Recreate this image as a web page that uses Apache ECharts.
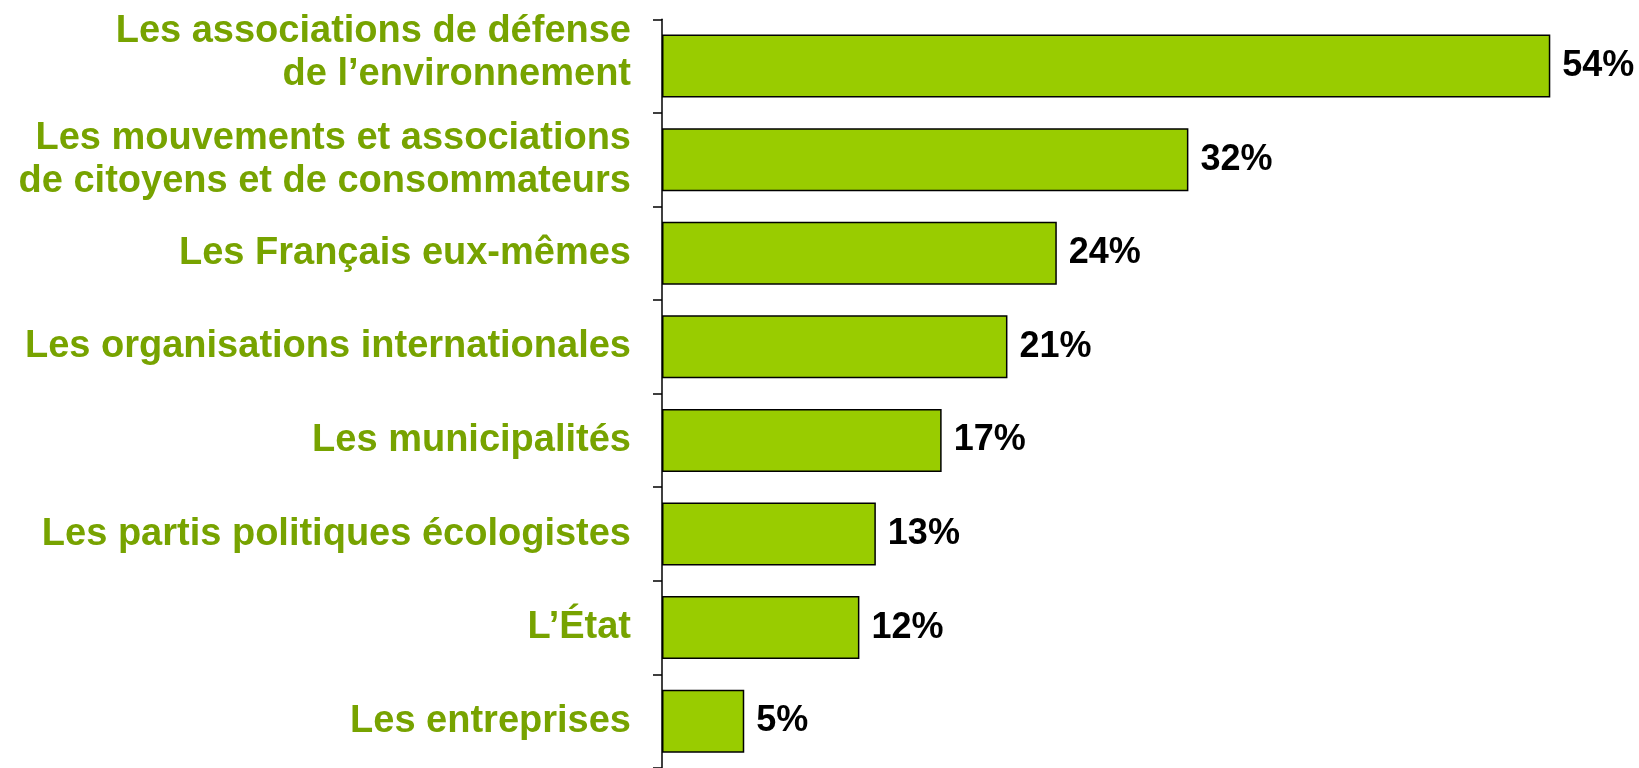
<!DOCTYPE html>
<html>
<head>
<meta charset="utf-8">
<script src="https://cdn.jsdelivr.net/npm/echarts@6/dist/echarts.min.js"></script>
<style>
html,body{margin:0;padding:0;background:#fff;}
#c{width:1639px;height:768px;}
</style>
</head>
<body>
<div id="c"></div>
<script>
const categories = [
  "Les associations de défense\nde l’environnement",
  "Les mouvements et associations\nde citoyens et de consommateurs",
  "Les Français eux-mêmes",
  "Les organisations internationales",
  "Les municipalités",
  "Les partis politiques écologistes",
  "L’État",
  "Les entreprises"
];
const values = [54, 32, 24, 21, 17, 13, 12, 5];

const chart = echarts.init(document.getElementById('c'), null, {renderer: 'canvas'});
const font = '"Liberation Sans", Arial, Helvetica, sans-serif';
const labelStyle = {
  color: '#77a300',
  fontFamily: font,
  fontWeight: 'bold',
  fontSize: 38,
  lineHeight: 43,
  align: 'right'
};
chart.setOption({
  animation: false,
  backgroundColor: '#ffffff',
  grid: {left: 662, top: 19.3, width: 954.1, height: 752.6, containLabel: false},
  xAxis: {
    type: 'value', min: 0, max: 58,
    show: false
  },
  yAxis: {
    type: 'category',
    inverse: true,
    data: categories,
    axisLine: {show: true, lineStyle: {color: '#000', width: 1.5}},
    axisTick: {show: true, length: 9, inside: false, lineStyle: {color: '#000', width: 1.5}},
    axisLabel: Object.assign({}, labelStyle, {
      margin: 31,
      interval: 0,
      hideOverlap: false,
      formatter: function (v, i) {
        return i === 0
          ? '{up|' + v.split('\n').join('}\n{up|') + '}\n{sp| }'
          : v;
      },
      rich: {
        up: Object.assign({}, labelStyle),
        sp: {fontSize: 10, lineHeight: 26, align: 'right'}
      }
    }),
    splitLine: {show: false}
  },
  series: [{
    type: 'bar',
    data: values,
    barWidth: 63,
    itemStyle: {color: '#99cc00', borderColor: '#000', borderWidth: 1.5},
    label: {
      show: true,
      position: 'right',
      distance: 12,
      formatter: '{c}%',
      color: '#000',
      fontFamily: font,
      fontWeight: 'bold',
      fontSize: 36
    }
  }]
});
</script>
</body>
</html>
